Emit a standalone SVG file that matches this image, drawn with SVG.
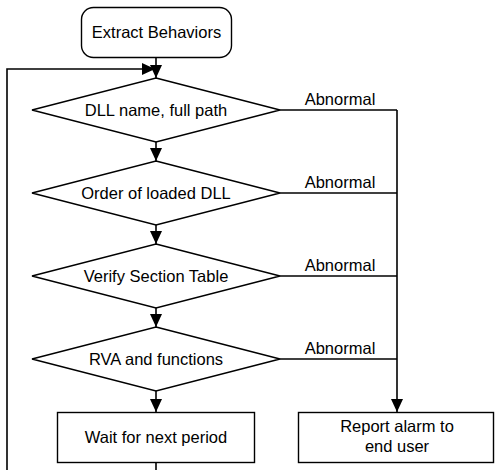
<svg xmlns="http://www.w3.org/2000/svg" width="495" height="470" viewBox="0 0 495 470">
<style>
.shape{fill:#fff;stroke:#000;stroke-width:1.4}
.line{fill:none;stroke:#000;stroke-width:1.6}
text{font-family:"Liberation Sans",Arial,sans-serif;font-size:16.5px;fill:#000;text-anchor:middle}
</style>
<defs>
<marker id="arr" markerUnits="userSpaceOnUse" markerWidth="14" markerHeight="14" refX="13" refY="6" orient="auto">
<path d="M0,0 L13,6 L0,12 Z" fill="#000"/>
</marker>
</defs>
<rect width="495" height="470" fill="#fff"/>
<g id="connectors">
<path class="line" d="M156,57.5 V78" marker-end="url(#arr)"/>
<path class="line" d="M156,470 V463"/>
<path class="line" d="M7,470 V69 H155" marker-end="url(#arr)"/>
<path class="line" d="M156,142 V161" marker-end="url(#arr)"/>
<path class="line" d="M156,225 V244" marker-end="url(#arr)"/>
<path class="line" d="M156,308 V327" marker-end="url(#arr)"/>
<path class="line" d="M156,391 V412" marker-end="url(#arr)"/>
<path class="line" d="M280,110 H397"/>
<path class="line" d="M280,193 H397"/>
<path class="line" d="M280,276 H397"/>
<path class="line" d="M280,359 H397"/>
<path class="line" d="M397,110 V412" marker-end="url(#arr)"/>
<text x="340" y="105">Abnormal</text>
<text x="340" y="188">Abnormal</text>
<text x="340" y="271">Abnormal</text>
<text x="340" y="354">Abnormal</text>
</g>
<g id="start">
<rect class="shape" x="81.5" y="7.5" width="150" height="50" rx="12"/>
<text x="156.5" y="38">Extract Behaviors</text>
</g>
<g id="d1">
<polygon class="shape" points="156,78 280,110 156,142 32,110"/>
<text x="156" y="116">DLL name, full path</text>
</g>
<g id="d2">
<polygon class="shape" points="156,161 280,193 156,225 32,193"/>
<text x="156" y="199">Order of loaded DLL</text>
</g>
<g id="d3">
<polygon class="shape" points="156,244 280,276 156,308 32,276"/>
<text x="156" y="282">Verify Section Table</text>
</g>
<g id="d4">
<polygon class="shape" points="156,327 280,359 156,391 32,359"/>
<text x="156" y="365">RVA and functions</text>
</g>
<g id="wait">
<rect class="shape" x="57.5" y="412.5" width="197" height="50"/>
<text x="156" y="443">Wait for next period</text>
</g>
<g id="report">
<rect class="shape" x="298.5" y="412.5" width="195" height="50"/>
<text x="397" y="432">Report alarm to</text>
<text x="397" y="452">end user</text>
</g>
</svg>
